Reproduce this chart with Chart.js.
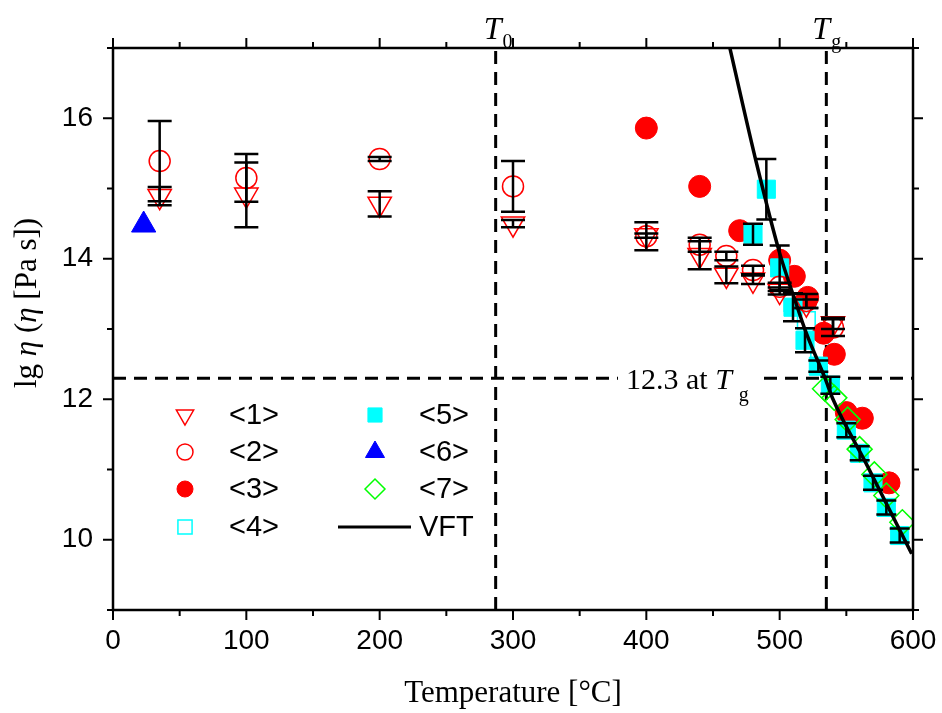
<!DOCTYPE html>
<html lang="en">
<head>
<meta charset="UTF-8">
<title>lg eta vs temperature</title>
<script src="https://cdn.jsdelivr.net/npm/chart.js"></script>
<style>
  html, body { margin: 0; padding: 0; background: #fff; }
</style>
</head>
<body>
<canvas id="myChart" width="942" height="713"></canvas>
<script>
// series <1> (open down triangles) and <2> (open circles), with error bars
var s1Temp = [35, 100, 200, 300, 400, 440, 460, 480, 500, 520, 540];
var s1Eta  = [14.89, 14.91, 14.78, 14.50, 14.33, 14.05, 13.77, 13.70, 13.54, 13.36, 13.08];
var s1Err  = [0.13, 0.46, 0.18, 0.05, 0.03, 0.20, 0.12, 0.06, 0.05, 0.06, 0.08];

var s2Temp = [35, 100, 200, 300, 400, 440, 460, 480, 500, 520, 540];
var s2Eta  = [15.39, 15.15, 15.42, 15.03, 14.32, 14.20, 14.04, 13.84, 13.60, 13.40, 13.02];
var s2Err  = [0.57, 0.34, 0.03, 0.36, 0.20, 0.10, 0.06, 0.06, 0.06, 0.10, 0.12];

// series <3> (filled red circles)
var s3Temp = [400, 440, 470, 500, 511, 521, 533, 541, 550, 562, 582];
var s3Eta  = [15.86, 15.03, 14.40, 13.98, 13.75, 13.45, 12.94, 12.64, 11.81, 11.73, 10.81];

// series <4> (open cyan squares)
var s4Temp = [510, 520, 530];
var s4Eta  = [13.38, 13.12, 12.72];

// series <5> (filled cyan squares), with error bars
var s5Temp = [480, 490, 500, 510, 519, 529, 538, 550, 560, 570, 580, 590];
var s5Eta  = [14.35, 14.99, 13.87, 13.31, 12.84, 12.47, 12.20, 11.56, 11.23, 10.81, 10.46, 10.06];
var s5Err  = [0.15, 0.43, 0.32, 0.20, 0.17, 0.08, 0.12, 0.10, 0.10, 0.10, 0.10, 0.10];

// series <6> (filled blue triangle)
var s6Temp = [23];
var s6Eta  = [14.48];

// series <7> (open green diamonds)
var s7Temp = [534, 541, 551, 560, 571, 580, 592];
var s7Eta  = [12.15, 12.02, 11.71, 11.29, 10.93, 10.63, 10.25];

// VFT fit curve
var vftTemp = [462.75, 482.5, 500, 511.5, 520, 534, 540, 565, 599];
var vftEta  = [16.99, 15.37, 14.08, 13.41, 12.94, 12.30, 12.00, 11.08, 9.80];

// reference values
var T0 = 287;
var Tg = 535;
var etaAtTg = 12.3;

var xTicks = [0, 100, 200, 300, 400, 500, 600];
var yTicks = [10, 12, 14, 16];
var legendLabels = ['<1>', '<2>', '<3>', '<4>', '<5>', '<6>', '<7>', 'VFT'];

var RED = '#ff0000', CYAN = '#00ffff', BLUE = '#0000ff', GREEN = '#00ff00';
var NONE = 'rgba(0,0,0,0)';
var SANS = '"Liberation Sans", Arial, sans-serif';
var SERIF = '"Liberation Serif", "Times New Roman", serif';

function pts(xs, ys) {
    return xs.map(function (x, i) { return { x: x, y: ys[i] }; });
}

function markerSet(label, xs, ys, style, o) {
    return {
        label: label,
        data: pts(xs, ys),
        showLine: false,
        pointStyle: style,
        pointRadius: o.r,
        rotation: o.rot || 0,
        pointRotation: o.rot || 0,
        pointBackgroundColor: o.fill || NONE,
        pointBorderColor: o.color,
        pointBorderWidth: o.bw || 1.5,
        order: o.order
    };
}

function refLine(xs, ys) {
    return {
        label: '',
        data: pts(xs, ys),
        showLine: true,
        pointRadius: 0,
        borderColor: '#000',
        borderWidth: 3,
        borderDash: [13, 8],
        order: 20
    };
}

var datasets = [
    refLine([T0, T0], [9, 17]),
    refLine([Tg, Tg], [9, 17]),
    refLine([0, 600], [etaAtTg, etaAtTg]),
    markerSet('<4>', s4Temp, s4Eta, 'rect', { r: 12.5, color: CYAN, order: 9 }),
    markerSet('<3>', s3Temp, s3Eta, 'circle', { r: 11, color: RED, fill: RED, bw: 1, order: 8 }),
    markerSet('<5>', s5Temp, s5Eta, 'rect', { r: 12.8, color: CYAN, fill: CYAN, bw: 1, order: 7 }),
    markerSet('<1>', s1Temp, s1Eta, 'triangle', { r: 13.5, color: RED, rot: 180, order: 6 }),
    markerSet('<2>', s2Temp, s2Eta, 'circle', { r: 10.5, color: RED, order: 5 }),
    markerSet('<6>', s6Temp, s6Eta, 'triangle', { r: 14, color: BLUE, fill: BLUE, bw: 1, order: 4 }),
    markerSet('<7>', s7Temp, s7Eta, 'rectRot', { r: 12.5, color: GREEN, order: 3 }),
    {
        label: 'VFT',
        data: pts(vftTemp, vftEta),
        showLine: true,
        pointRadius: 0,
        borderColor: '#000',
        borderWidth: 3.5,
        cubicInterpolationMode: 'monotone',
        order: 1
    }
];

// draws text made of several runs (normal / italic / subscript)
function drawRuns(ctx, runs, x, y) {
    runs.forEach(function (r) {
        ctx.font = r.font;
        ctx.fillText(r.text, x, y + (r.dy || 0));
        x += ctx.measureText(r.text).width + (r.gap || 0);
    });
}
function runsWidth(ctx, runs) {
    var w = 0;
    runs.forEach(function (r) { ctx.font = r.font; w += ctx.measureText(r.text).width + (r.gap || 0); });
    return w;
}

var extras = {
    id: 'extras',
    beforeDraw: function (chart) {
        var ctx = chart.ctx;
        ctx.save();
        ctx.fillStyle = '#fff';
        ctx.fillRect(0, 0, chart.width, chart.height);
        ctx.restore();
    },
    afterDatasetsDraw: function (chart) {
        var ctx = chart.ctx;
        var xs = chart.scales.x, ys = chart.scales.y;
        var a = chart.chartArea;
        ctx.save();

        // error bars
        ctx.strokeStyle = '#000';
        ctx.lineWidth = 2.5;
        function bars(tx, ey, er, half) {
            tx.forEach(function (t, i) {
                var px = xs.getPixelForValue(t);
                var top = ys.getPixelForValue(ey[i] + er[i]);
                var bot = ys.getPixelForValue(ey[i] - er[i]);
                ctx.beginPath();
                ctx.moveTo(px, top); ctx.lineTo(px, bot);
                ctx.moveTo(px - half, top); ctx.lineTo(px + half, top);
                ctx.moveTo(px - half, bot); ctx.lineTo(px + half, bot);
                ctx.stroke();
            });
        }
        bars(s5Temp, s5Eta, s5Err, 10);
        bars(s1Temp, s1Eta, s1Err, 12);
        bars(s2Temp, s2Eta, s2Err, 12);

        // "12.3 at Tg" label on white box
        ctx.fillStyle = '#fff';
        ctx.fillRect(618, 366, 142, 24);
        ctx.fillStyle = '#000';
        ctx.textBaseline = 'alphabetic';
        ctx.textAlign = 'left';
        drawRuns(ctx, [
            { text: '12.3 at ', font: '30px ' + SERIF },
            { text: 'T', font: 'italic 30px ' + SERIF, gap: 7 },
            { text: 'g', font: '20px ' + SERIF, dy: 12 }
        ], 626, 389);

        // T0 and Tg labels above the frame
        drawRuns(ctx, [
            { text: 'T', font: 'italic 32px ' + SERIF, gap: 1 },
            { text: '0', font: '20px ' + SERIF, dy: 9 }
        ], xs.getPixelForValue(T0) - 12, 39);
        drawRuns(ctx, [
            { text: 'T', font: 'italic 32px ' + SERIF, gap: 1 },
            { text: 'g', font: '20px ' + SERIF, dy: 9 }
        ], xs.getPixelForValue(Tg) - 14, 39);

        // frame
        ctx.strokeStyle = '#000';
        ctx.lineWidth = 2.5;
        ctx.strokeRect(a.left, a.top, a.right - a.left, a.bottom - a.top);

        // outward ticks on all four sides
        ctx.lineWidth = 2;
        ctx.beginPath();
        for (var t = 0; t <= 600; t += 50) {
            var px = xs.getPixelForValue(t);
            var len = t % 100 === 0 ? 10 : 6;
            ctx.moveTo(px, a.bottom); ctx.lineTo(px, a.bottom + len);
            ctx.moveTo(px, a.top); ctx.lineTo(px, a.top - len);
        }
        for (var v = 9; v <= 17; v += 1) {
            var py = ys.getPixelForValue(v);
            var l2 = v % 2 === 0 ? 10 : 6;
            ctx.moveTo(a.left, py); ctx.lineTo(a.left - l2, py);
            ctx.moveTo(a.right, py); ctx.lineTo(a.right + l2, py);
        }
        ctx.stroke();

        // axis titles
        ctx.fillStyle = '#000';
        ctx.font = '31px ' + SERIF;
        ctx.textAlign = 'center';
        ctx.fillText('Temperature [\u00B0C]', (a.left + a.right) / 2, 702);

        var yRuns = [
            { text: 'lg ', font: '31px ' + SERIF },
            { text: '\u03B7', font: 'italic 31px ' + SERIF },
            { text: ' (', font: '31px ' + SERIF },
            { text: '\u03B7', font: 'italic 31px ' + SERIF },
            { text: ' [Pa s])', font: '31px ' + SERIF }
        ];
        ctx.save();
        ctx.translate(36, 303);
        ctx.rotate(-Math.PI / 2);
        ctx.textAlign = 'left';
        drawRuns(ctx, yRuns, -runsWidth(ctx, yRuns) / 2, 0);
        ctx.restore();

        // legend, two columns
        var marks = datasets.slice(3, 10);
        var byLabel = {};
        marks.forEach(function (d) { byLabel[d.label] = d; });
        var legendSize = { '<1>': 10, '<2>': 8, '<3>': 8, '<4>': 10, '<5>': 10, '<6>': 11, '<7>': 10 };
        var rowsY = [415, 452, 489, 527];
        ctx.textBaseline = 'middle';
        ctx.textAlign = 'left';
        legendLabels.forEach(function (lab, i) {
            var col = i < 4 ? 0 : 1;
            var ry = rowsY[i % 4];
            var sx = col === 0 ? 185 : 375;
            var tx = col === 0 ? 229 : 419;
            if (lab === 'VFT') {
                ctx.strokeStyle = '#000';
                ctx.lineWidth = 3;
                ctx.beginPath();
                ctx.moveTo(338, ry); ctx.lineTo(411, ry);
                ctx.stroke();
            } else {
                var d = byLabel[lab];
                ctx.fillStyle = d.pointBackgroundColor;
                ctx.strokeStyle = d.pointBorderColor;
                ctx.lineWidth = d.pointBorderWidth;
                Chart.helpers.drawPoint(ctx, {
                    pointStyle: d.pointStyle,
                    rotation: d.rotation,
                    radius: legendSize[lab],
                    borderWidth: d.pointBorderWidth
                }, sx, ry);
            }
            ctx.fillStyle = '#000';
            ctx.font = '29px ' + SANS;
            ctx.fillText(lab, tx, ry + 1);
        });

        ctx.restore();
    }
};

var myChart = new Chart(document.getElementById('myChart').getContext('2d'), {
    type: 'scatter',
    data: { datasets: datasets },
    options: {
        responsive: false,
        animation: false,
        layout: { padding: { top: 48, right: 29, left: 0, bottom: 0 } },
        plugins: {
            legend: { display: false },
            tooltip: { enabled: false }
        },
        scales: {
            x: {
                type: 'linear',
                position: 'bottom',
                min: 0,
                max: 600,
                grid: { display: false, drawTicks: false },
                border: { display: false },
                afterBuildTicks: function (s) { s.ticks = xTicks.map(function (v) { return { value: v }; }); },
                afterFit: function (s) { s.height = 103; s.paddingLeft = 0; s.paddingRight = 0; },
                ticks: { color: '#000', font: { family: SANS, size: 28 }, padding: 14, maxRotation: 0, autoSkip: false }
            },
            y: {
                type: 'linear',
                position: 'left',
                min: 9,
                max: 17,
                grid: { display: false, drawTicks: false },
                border: { display: false },
                afterBuildTicks: function (s) { s.ticks = yTicks.map(function (v) { return { value: v }; }); },
                afterFit: function (s) { s.width = 113; s.paddingTop = 0; s.paddingBottom = 0; },
                ticks: { color: '#000', font: { family: SANS, size: 28 }, padding: 20, autoSkip: false }
            }
        }
    },
    plugins: [extras]
});
</script>
</body>
</html>
